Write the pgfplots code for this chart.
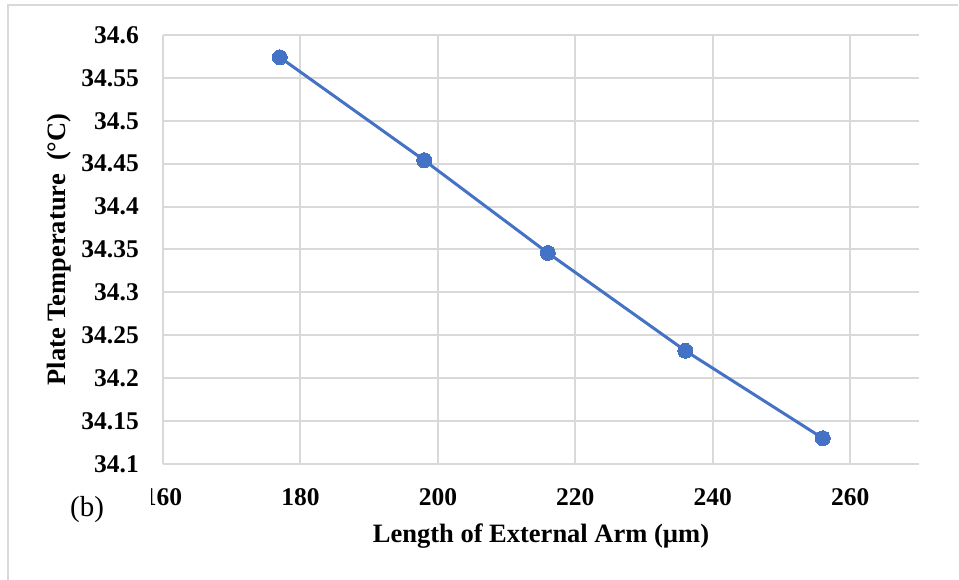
\documentclass[border=0pt]{standalone}
\usepackage{fontspec}
\setmainfont{Liberation Serif}
\usepackage{pgfplots}
\pgfplotsset{compat=1.18}
\definecolor{excelblue}{HTML}{4472C4}
\definecolor{gridgray}{HTML}{D9D9D9}
\begin{document}
\begin{tikzpicture}[x=1pt,y=1pt]
\useasboundingbox (0,0) rectangle (959,580);
\draw[gridgray, line width=2pt] (8,0) -- (8,575) -- (958,575);
\begin{axis}[
  at={(163pt,116pt)}, anchor=south west,
  scale only axis, width=756pt, height=429pt,
  xmin=160, xmax=270, ymin=34.1, ymax=34.6,
  xtick={160,180,200,220,240,260},
  xticklabels={160,180,200,220,240,260},
  ytick={34.1,34.15,34.2,34.25,34.3,34.35,34.4,34.45,34.5,34.55,34.6},
  yticklabels={34.1,34.15,34.2,34.25,34.3,34.35,34.4,34.45,34.5,34.55,34.6},
  axis line style={draw=none},
  major tick length=0pt,
  grid=major,
  major grid style={gridgray, line width=2pt},
  ticklabel style={font=\fontsize{25.5}{25.5}\selectfont\bfseries, inner sep=0pt},
  yticklabel style={anchor=east},
  xticklabel style={anchor=north},
  yticklabel shift=24pt,
  xticklabel shift=24pt,
  xlabel={Length of External Arm (µm)},
  ylabel={Plate Temperature~~(°C)},
  label style={font=\fontsize{26.5}{26.5}\selectfont\bfseries, inner sep=0pt},
  xlabel style={at={(axis description cs:0.5,-0.1841)}, anchor=base},
  ylabel style={at={(axis description cs:-0.1296,0.5)}, anchor=base},
  clip=false,
]
\addplot[color=excelblue, line width=3pt, mark=*, mark size=7.5pt,
  mark options={fill=excelblue, draw=excelblue, line width=0pt}]
  coordinates {(177,34.574) (198,34.454) (216,34.346) (236,34.232) (256,34.130)};
\end{axis}
\fill[white] (138,68) rectangle (150.5,96);
\node[anchor=base, inner sep=0pt, font=\fontsize{29}{29}\selectfont] at (87,63) {(b)};
\end{tikzpicture}
\end{document}
